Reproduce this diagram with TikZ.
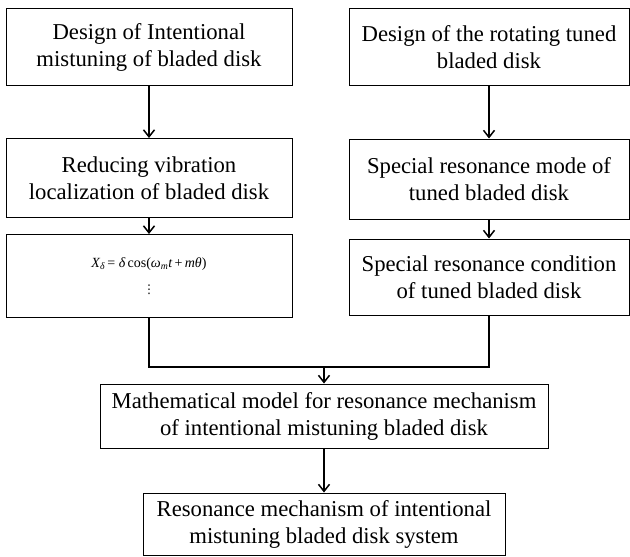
\documentclass[tikz,border=0pt]{standalone}
\usepackage{fontspec}
\setmainfont{Liberation Serif}
\newfontfamily\dvfont{DejaVu Sans}
\usetikzlibrary{arrows.meta}
\begin{document}
\begin{tikzpicture}[x=1pt,y=-1pt,
  box/.style={draw=black,line width=1pt,align=center,inner sep=0pt,
    font=\fontsize{22.7}{27}\selectfont,text=black},
  arr/.style={line width=1.8pt,-{Straight Barb[length=7pt,width=11pt,line width=1.5pt]}},
  link/.style={line width=1.8pt}]
\useasboundingbox (0,0) rectangle (630,557);
\node[box,minimum width=286pt,minimum height=77pt] (a1) at (149,47) {Design of Intentional\\mistuning of bladed disk};
\node[box,minimum width=280pt,minimum height=77pt] (b1) at (489,47) {Design of the rotating tuned\\bladed disk};
\node[box,minimum width=286pt,minimum height=79pt] (a2) at (149,178) {Reducing vibration\\localization of bladed disk};
\node[box,minimum width=280pt,minimum height=80pt] (b2) at (489,179) {Special resonance mode of\\tuned bladed disk};
\node[box,minimum width=286pt,minimum height=83pt,font=\fontsize{14}{16}\selectfont] (a3) at (149,276) {\itshape X\textsubscript{δ}\,\upshape= \itshape δ\,\upshape cos(\itshape ω\textsubscript{m}t\,\upshape+\,\itshape mθ\upshape)\\[10pt]{\dvfont\fontsize{12}{14}\selectfont ⋮}};
\node[box,minimum width=280pt,minimum height=76pt] (b3) at (489,277) {Special resonance condition\\of tuned bladed disk};
\node[box,minimum width=448pt,minimum height=64pt] (m) at (324,416) {Mathematical model for resonance mechanism\\of intentional mistuning bladed disk};
\node[box,minimum width=362pt,minimum height=62pt] (r) at (324,524) {Resonance mechanism of intentional\\mistuning bladed disk system};
\coordinate (j) at (324,367);
\draw[arr] (a1.south) -- (a2.north);
\draw[arr] (a2.south) -- (a3.north);
\draw[arr] (b1.south) -- (b2.north);
\draw[arr] (b2.south) -- (b3.north);
\draw[link] (a3.south) |- (j) -| (b3.south);
\draw[arr] (j) -- (m.north);
\draw[arr] (m.south) -- (r.north);
\end{tikzpicture}
\end{document}
